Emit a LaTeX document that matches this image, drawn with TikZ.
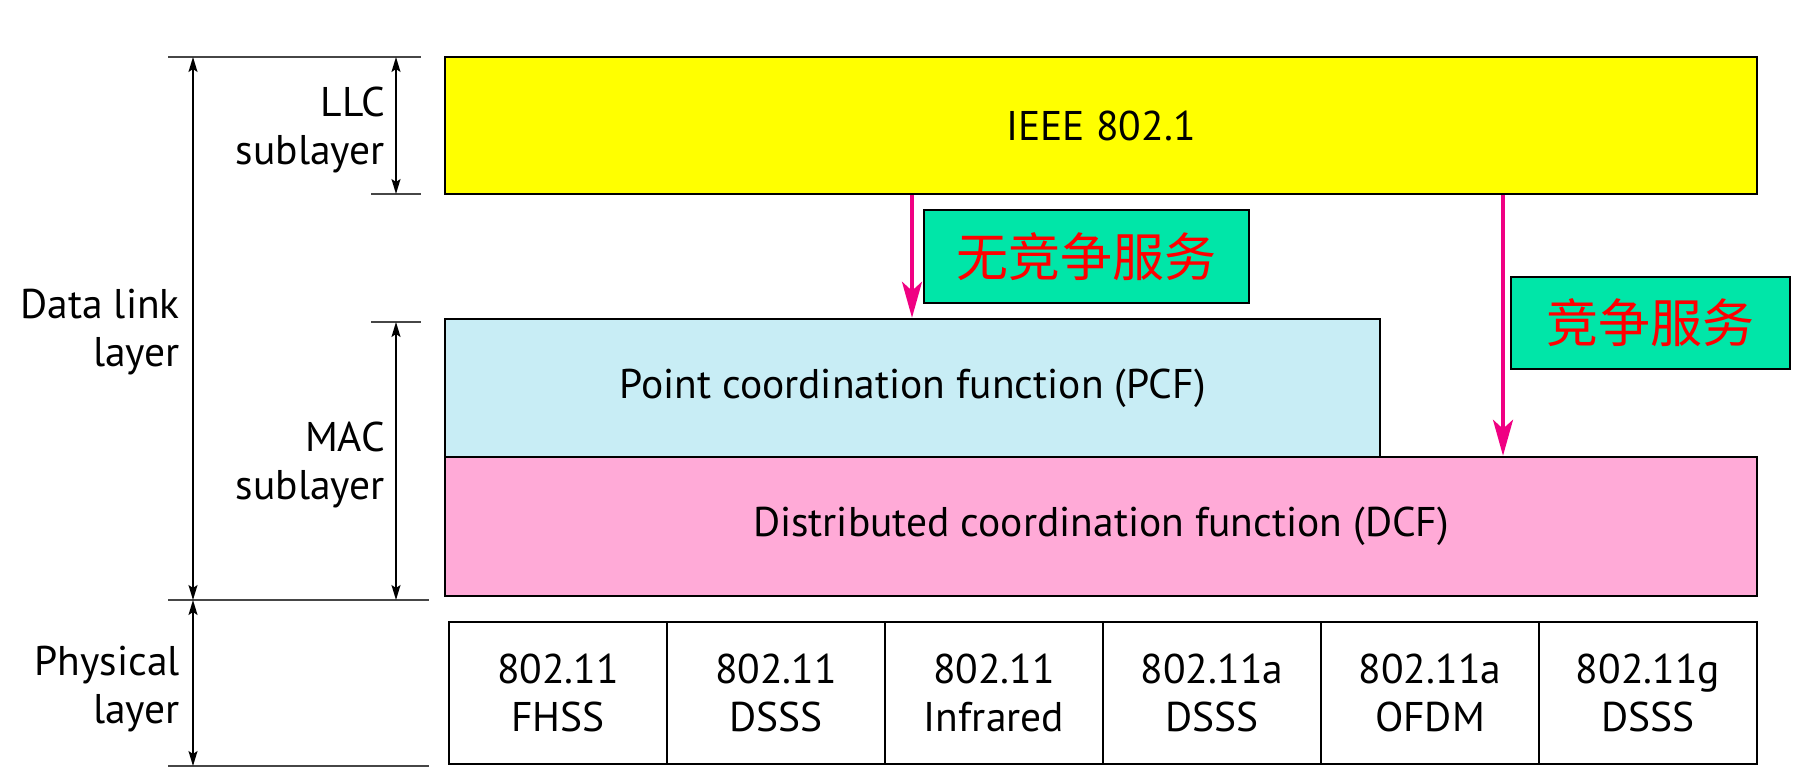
\documentclass[tikz,border=0pt]{standalone}
\usepackage{fontspec}
\setmainfont{PT Sans}
\newfontfamily\cjk{Noto Sans CJK SC}
\usetikzlibrary{arrows.meta}
\definecolor{llcyellow}{RGB}{255,255,0}
\definecolor{pcfcyan}{RGB}{200,237,245}
\definecolor{dcfpink}{RGB}{255,170,215}
\definecolor{tagfill}{RGB}{0,230,168}
\definecolor{svcpink}{RGB}{240,0,130}
\definecolor{tickgray}{RGB}{70,70,70}
\tikzset{
  layerbox/.style={draw=black, line width=2.5pt, inner sep=0pt, font=\fontsize{41.5}{48}\selectfont},
  physbox/.style={layerbox, minimum width=218pt, minimum height=142pt, align=center, fill=white},
  tagbox/.style={draw=black, line width=2.5pt, fill=tagfill, inner sep=0pt, text=red, font=\cjk\fontsize{52}{60}\selectfont},
  sidelabel/.style={inner sep=0pt, align=right, anchor=east, font=\fontsize{41.5}{48}\selectfont},
  dimarrow/.style={line width=1.6pt, {Stealth[length=15pt,width=9pt,inset=3pt]}-{Stealth[length=15pt,width=9pt,inset=3pt]}},
  tickline/.style={line width=2pt, draw=tickgray},
  svcarrow/.style={line width=3.5pt, draw=svcpink, -{Stealth[length=36pt,width=20pt,inset=9pt]}}
}
\begin{document}
\begin{tikzpicture}[x=1pt,y=-1pt]
\useasboundingbox (0,0) rectangle (1816,772);

% boxes
\node[layerbox, fill=llcyellow, minimum width=1312pt, minimum height=137pt] (ieee) at (1101,125.5) {IEEE 802.1};
\node[layerbox, fill=pcfcyan, minimum width=935pt, minimum height=138pt] (pcf) at (912.5,388) {Point coordination function (PCF)};
\node[layerbox, fill=dcfpink, minimum width=1312pt, minimum height=139pt] (dcf) at (1101,526.5) {Distributed coordination function (DCF)};

\node[physbox] (p1) at (558,693) {802.11\\FHSS};
\node[physbox] (p2) at (776,693) {802.11\\DSSS};
\node[physbox] (p3) at (994,693) {802.11\\Infrared};
\node[physbox] (p4) at (1212,693) {802.11a\\DSSS};
\node[physbox] (p5) at (1430,693) {802.11a\\OFDM};
\node[physbox] (p6) at (1648,693) {802.11g\\DSSS};

% service tags
\node[tagbox, minimum width=325pt, minimum height=93pt] (free) at (1086.5,256.5) {无竞争服务};
\node[tagbox, minimum width=279pt, minimum height=92pt] (cont) at (1650.5,323) {竞争服务};

% service arrows
\coordinate (a1) at (912,0);
\coordinate (a2) at (1503,0);
\draw[svcarrow] (ieee.south -| a1) -- (pcf.north -| a1);
\draw[svcarrow] (ieee.south -| a2) -- (dcf.north -| a2);

% tick lines
\coordinate (t0l) at (168,57);   \coordinate (t0r) at (421,57);
\coordinate (t1l) at (371,194);  \coordinate (t1r) at (421,194);
\coordinate (t2l) at (371,322);  \coordinate (t2r) at (421,322);
\coordinate (t3l) at (168,600);  \coordinate (t3r) at (429,600);
\coordinate (t4l) at (168,766);  \coordinate (t4r) at (429,766);
\draw[tickline] (t0l) -- (t0r);
\draw[tickline] (t1l) -- (t1r);
\draw[tickline] (t2l) -- (t2r);
\draw[tickline] (t3l) -- (t3r);
\draw[tickline] (t4l) -- (t4r);

% dimension arrows
\coordinate (dl) at (193,0);
\coordinate (sl) at (396,0);
\draw[dimarrow] (t0l -| dl) -- (t3l -| dl);
\draw[dimarrow] (t3l -| dl) -- (t4l -| dl);
\draw[dimarrow] (t0l -| sl) -- (t1l -| sl);
\draw[dimarrow] (t2l -| sl) -- (t3l -| sl);

% side labels
\node[sidelabel] (lbl-dl) at (180,332.5) {Data link\\layer};
\node[sidelabel] (lbl-llc) at (385,129.5) {LLC\\sublayer};
\node[sidelabel] (lbl-mac) at (385,464.5) {MAC\\sublayer};
\node[sidelabel] (lbl-phy) at (180,689.5) {Physical\\layer};
\end{tikzpicture}
\end{document}
